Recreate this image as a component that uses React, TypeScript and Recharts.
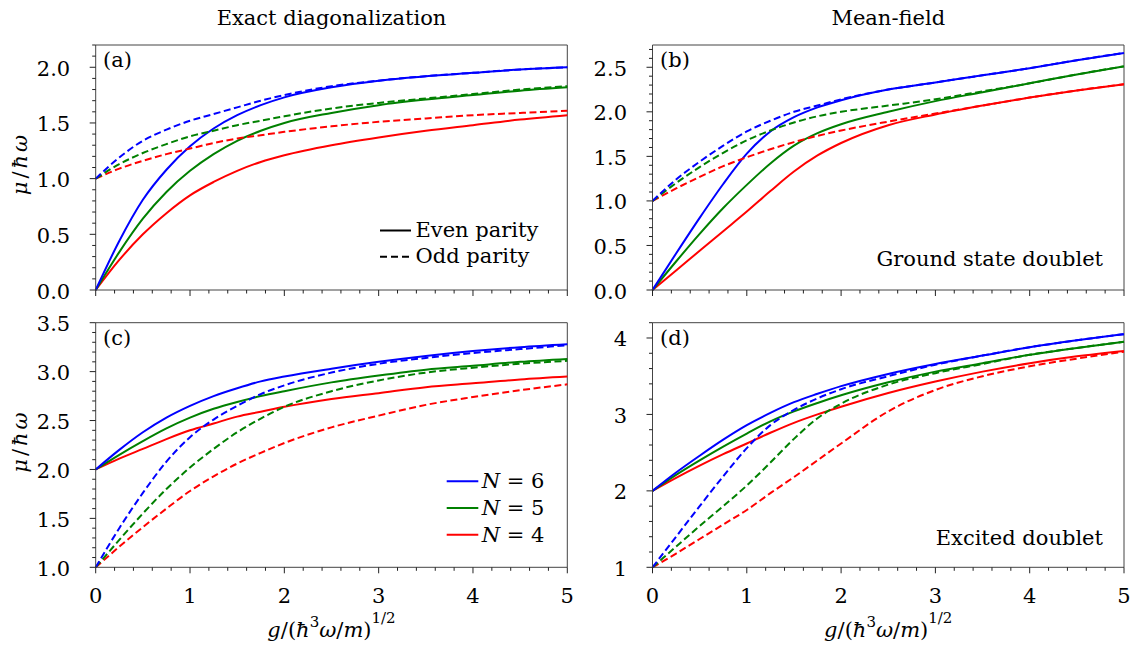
import React from 'react';
import { LineChart, Line, XAxis, YAxis, ReferenceLine } from 'recharts';

const FONT = "'DejaVu Serif', 'Liberation Serif', serif";
const FS = 21;
const INK = '#222222';
const FRAME = '#444444';
const BLUE = '#0000ff';
const GREEN = '#008000';
const RED = '#ff0000';
const DASH = '7 3.5';

// x values: g / (hbar^3 omega / m)^(1/2)
const gValues = [0, 0.25, 0.5, 0.75, 1, 1.25, 1.5, 1.75, 2, 2.5, 3, 3.5, 4, 4.5, 5];

// (a) Exact diagonalization, ground state doublet
const edGroundEvenN6 = [0, 0.44, 0.81, 1.08, 1.29, 1.45, 1.57, 1.66, 1.73, 1.82, 1.88, 1.92, 1.95, 1.98, 2.0];
const edGroundOddN6 = [1, 1.19, 1.34, 1.44, 1.52, 1.58, 1.64, 1.7, 1.75, 1.83, 1.88, 1.92, 1.95, 1.98, 2.0];
const edGroundEvenN5 = [0, 0.34, 0.64, 0.88, 1.07, 1.22, 1.34, 1.43, 1.5, 1.59, 1.66, 1.71, 1.75, 1.79, 1.82];
const edGroundOddN5 = [1, 1.13, 1.23, 1.31, 1.38, 1.43, 1.48, 1.52, 1.56, 1.63, 1.68, 1.72, 1.76, 1.8, 1.83];
const edGroundEvenN4 = [0, 0.27, 0.5, 0.69, 0.85, 0.97, 1.07, 1.15, 1.21, 1.3, 1.37, 1.43, 1.48, 1.53, 1.57];
const edGroundOddN4 = [1, 1.09, 1.16, 1.22, 1.27, 1.32, 1.36, 1.39, 1.42, 1.47, 1.51, 1.54, 1.57, 1.59, 1.61];

// (b) Mean-field, ground state doublet
const mfGroundEvenN6 = [0, 0.41, 0.81, 1.19, 1.53, 1.78, 1.94, 2.05, 2.13, 2.25, 2.33, 2.41, 2.49, 2.58, 2.66];
const mfGroundOddN6 = [1, 1.24, 1.44, 1.62, 1.78, 1.9, 2.0, 2.07, 2.14, 2.25, 2.33, 2.41, 2.49, 2.58, 2.66];
const mfGroundEvenN5 = [0, 0.32, 0.63, 0.92, 1.18, 1.42, 1.62, 1.76, 1.86, 2.0, 2.12, 2.22, 2.32, 2.42, 2.51];
const mfGroundOddN5 = [1, 1.2, 1.38, 1.54, 1.68, 1.79, 1.88, 1.95, 2.0, 2.07, 2.14, 2.23, 2.32, 2.42, 2.51];
const mfGroundEvenN4 = [0, 0.22, 0.44, 0.66, 0.88, 1.11, 1.33, 1.51, 1.65, 1.85, 1.97, 2.07, 2.16, 2.24, 2.31];
const mfGroundOddN4 = [1, 1.14, 1.27, 1.39, 1.49, 1.58, 1.66, 1.73, 1.79, 1.89, 1.98, 2.07, 2.16, 2.24, 2.31];

// (c) Exact diagonalization, excited doublet
const edExcitedEvenN6 = [2, 2.2, 2.38, 2.53, 2.65, 2.75, 2.83, 2.9, 2.95, 3.03, 3.1, 3.16, 3.21, 3.25, 3.28];
const edExcitedOddN6 = [1, 1.4, 1.76, 2.08, 2.33, 2.51, 2.65, 2.77, 2.86, 2.99, 3.08, 3.14, 3.19, 3.23, 3.27];
const edExcitedEvenN5 = [2, 2.15, 2.29, 2.42, 2.53, 2.62, 2.69, 2.75, 2.8, 2.89, 2.96, 3.02, 3.06, 3.1, 3.13];
const edExcitedOddN5 = [1, 1.28, 1.55, 1.8, 2.02, 2.21, 2.38, 2.52, 2.64, 2.8, 2.91, 2.99, 3.04, 3.08, 3.11];
const edExcitedEvenN4 = [2, 2.11, 2.21, 2.31, 2.4, 2.47, 2.54, 2.59, 2.64, 2.72, 2.78, 2.84, 2.88, 2.92, 2.95];
const edExcitedOddN4 = [1, 1.21, 1.41, 1.6, 1.78, 1.93, 2.06, 2.17, 2.27, 2.43, 2.55, 2.66, 2.74, 2.81, 2.87];

// (d) Mean-field, excited doublet
const mfExcitedEvenN6 = [2, 2.24, 2.46, 2.67, 2.86, 3.02, 3.16, 3.27, 3.37, 3.53, 3.66, 3.77, 3.88, 3.97, 4.05];
const mfExcitedOddN6 = [1, 1.4, 1.8, 2.19, 2.56, 2.86, 3.06, 3.21, 3.33, 3.5, 3.65, 3.77, 3.88, 3.97, 4.05];
const mfExcitedEvenN5 = [2, 2.21, 2.4, 2.58, 2.75, 2.91, 3.04, 3.15, 3.25, 3.42, 3.56, 3.67, 3.78, 3.87, 3.95];
const mfExcitedOddN5 = [1, 1.27, 1.54, 1.8, 2.07, 2.37, 2.68, 2.95, 3.14, 3.39, 3.54, 3.66, 3.78, 3.87, 3.95];
const mfExcitedEvenN4 = [2, 2.17, 2.33, 2.48, 2.62, 2.76, 2.89, 3.0, 3.1, 3.28, 3.43, 3.56, 3.67, 3.76, 3.83];
const mfExcitedOddN4 = [1, 1.18, 1.37, 1.56, 1.75, 1.97, 2.18, 2.4, 2.62, 3.04, 3.32, 3.5, 3.63, 3.73, 3.82];

// text
const columnTitles = ['Exact diagonalization', 'Mean-field'];
const panelLetters = ['(a)', '(b)', '(c)', '(d)'];
const parityLabels = ['Even parity', 'Odd parity'];
const particleNumbers = ['6', '5', '4'];
const doubletLabels = ['Ground state doublet', 'Excited doublet'];

function makeTicks(start: number, end: number, step: number): number[] {
  const n = Math.round((end - start) / step);
  return Array.from({ length: n + 1 }, (_, i) => Math.round((start + i * step) * 1000) / 1000);
}

const xTicks = makeTicks(0, 5, 0.2);
const yTicksA = makeTicks(0, 2.2, 0.1);
const yTicksB = makeTicks(0, 2.7, 0.1);
const yTicksC = makeTicks(1, 3.5, 0.1);
const yTicksD = makeTicks(1, 4.2, 0.2);

type Row = { g: number; e6: number; e5: number; e4: number; o6: number; o5: number; o4: number };

function buildRows(e6: number[], e5: number[], e4: number[], o6: number[], o5: number[], o4: number[]): Row[] {
  return gValues.map((g, i) => ({ g, e6: e6[i], e5: e5[i], e4: e4[i], o6: o6[i], o5: o5[i], o4: o4[i] }));
}

const rowsA = buildRows(edGroundEvenN6, edGroundEvenN5, edGroundEvenN4, edGroundOddN6, edGroundOddN5, edGroundOddN4);
const rowsB = buildRows(mfGroundEvenN6, mfGroundEvenN5, mfGroundEvenN4, mfGroundOddN6, mfGroundOddN5, mfGroundOddN4);
const rowsC = buildRows(edExcitedEvenN6, edExcitedEvenN5, edExcitedEvenN4, edExcitedOddN6, edExcitedOddN5, edExcitedOddN4);
const rowsD = buildRows(mfExcitedEvenN6, mfExcitedEvenN5, mfExcitedEvenN4, mfExcitedOddN6, mfExcitedOddN5, mfExcitedOddN4);

function isMultiple(v: number, step: number) {
  const r = v / step;
  return Math.abs(r - Math.round(r)) < 1e-6;
}

function XTick(props: any) {
  const { x, y, payload, showLabel } = props;
  const v = payload.value as number;
  const major = isMultiple(v, 1);
  return (
    <g>
      <line x1={x} x2={x} y1={y} y2={y + (major ? 6 : 3.5)} stroke={INK} strokeWidth={1} />
      {showLabel && major ? (
        <text x={x} y={y + 35.5} textAnchor="middle" fontFamily={FONT} fontSize={FS} fill="#000">
          {String(Math.round(v))}
        </text>
      ) : null}
    </g>
  );
}

function YTick(props: any) {
  const { x, y, payload, majorStep, decimals } = props;
  const v = payload.value as number;
  const major = isMultiple(v, majorStep);
  return (
    <g>
      <line x1={x - (major ? 6 : 3.5)} x2={x} y1={y} y2={y} stroke={INK} strokeWidth={1} />
      {major ? (
        <text x={x - 25.5} y={y + 8.5} textAnchor="end" fontFamily={FONT} fontSize={FS} fill="#000">
          {v.toFixed(decimals)}
        </text>
      ) : null}
    </g>
  );
}

type PanelProps = {
  left: number;
  top: number;
  width: number;
  height: number;
  yAxisWidth: number;
  marginTop: number;
  marginRight: number;
  xAxisHeight: number;
  rows: Row[];
  yDomain: [number, number];
  yTicks: number[];
  majorStep: number;
  decimals: number;
  showXLabels: boolean;
};

function Panel(p: PanelProps) {
  return (
    <div style={{ position: 'absolute', left: p.left, top: p.top }}>
      <LineChart
        width={p.width}
        height={p.height}
        data={p.rows}
        margin={{ top: p.marginTop, right: p.marginRight, bottom: 0, left: 0 }}
      >
        <XAxis
          dataKey="g"
          type="number"
          domain={[0, 5]}
          ticks={xTicks}
          interval={0}
          tickSize={0}
          tickMargin={0}
          height={p.xAxisHeight}
          axisLine={{ stroke: FRAME, strokeWidth: 1 }}
          tickLine={false}
          tick={(t: any) => <XTick {...t} showLabel={p.showXLabels} />}
        />
        <YAxis
          type="number"
          domain={p.yDomain}
          ticks={p.yTicks}
          interval={0}
          tickSize={0}
          tickMargin={0}
          width={p.yAxisWidth}
          axisLine={{ stroke: FRAME, strokeWidth: 1 }}
          tickLine={false}
          tick={(t: any) => <YTick {...t} majorStep={p.majorStep} decimals={p.decimals} />}
        />
        <ReferenceLine y={p.yDomain[1]} stroke={FRAME} strokeWidth={1} />
        <ReferenceLine x={5} stroke={FRAME} strokeWidth={1} />
        <Line type="monotone" dataKey="e4" stroke={RED} strokeWidth={2} dot={false} isAnimationActive={false} />
        <Line type="monotone" dataKey="e5" stroke={GREEN} strokeWidth={2} dot={false} isAnimationActive={false} />
        <Line type="monotone" dataKey="e6" stroke={BLUE} strokeWidth={2} dot={false} isAnimationActive={false} />
        <Line type="monotone" dataKey="o4" stroke={RED} strokeWidth={2} strokeDasharray={DASH} dot={false} isAnimationActive={false} />
        <Line type="monotone" dataKey="o5" stroke={GREEN} strokeWidth={2} strokeDasharray={DASH} dot={false} isAnimationActive={false} />
        <Line type="monotone" dataKey="o6" stroke={BLUE} strokeWidth={2} strokeDasharray={DASH} dot={false} isAnimationActive={false} />
      </LineChart>
    </div>
  );
}

const colCenters = [331.5, 888.25];
const rowCenters = [163.5, 441];

function YTitle({ cy }: { cy: number }) {
  return (
    <text
      x={27}
      y={cy}
      transform={`rotate(-90, 27, ${cy})`}
      textAnchor="middle"
      fontFamily={FONT}
      fontSize={FS}
      letterSpacing={3}
      fill="#000"
    >
      <tspan fontStyle="italic">μ</tspan>/<tspan fontStyle="italic">ħω</tspan>
    </text>
  );
}

function XTitle({ cx }: { cx: number }) {
  return (
    <text x={cx} y={637} textAnchor="middle" fontFamily={FONT} fontSize={FS} fill="#000">
      <tspan fontStyle="italic">g</tspan>
      <tspan>/(</tspan>
      <tspan fontStyle="italic">ħ</tspan>
      <tspan dy={-10} fontSize={15}>3</tspan>
      <tspan dy={10} fontStyle="italic">ω</tspan>
      <tspan>/</tspan>
      <tspan fontStyle="italic">m</tspan>
      <tspan>)</tspan>
      <tspan dy={-14} fontSize={15}>1/2</tspan>
    </text>
  );
}

function Overlay() {
  const colors = [BLUE, GREEN, RED];
  return (
    <svg
      width={1132}
      height={648}
      style={{ position: 'absolute', left: 0, top: 0, pointerEvents: 'none' }}
    >
      {columnTitles.map((t, i) => (
        <text key={t} x={colCenters[i]} y={25} textAnchor="middle" fontFamily={FONT} fontSize={FS} fill="#000">
          {t}
        </text>
      ))}
      <text x={103} y={67} fontFamily={FONT} fontSize={FS} fill="#000">{panelLetters[0]}</text>
      <text x={660} y={67} fontFamily={FONT} fontSize={FS} fill="#000">{panelLetters[1]}</text>
      <text x={103} y={345} fontFamily={FONT} fontSize={FS} fill="#000">{panelLetters[2]}</text>
      <text x={660} y={345} fontFamily={FONT} fontSize={FS} fill="#000">{panelLetters[3]}</text>

      <text x={1103} y={266} textAnchor="end" fontFamily={FONT} fontSize={FS} fill="#000">{doubletLabels[0]}</text>
      <text x={1103} y={544.5} textAnchor="end" fontFamily={FONT} fontSize={FS} fill="#000">{doubletLabels[1]}</text>

      {/* parity legend (a) */}
      <line x1={380} x2={411} y1={230.5} y2={230.5} stroke="#000" strokeWidth={2} />
      <text x={415.5} y={237} fontFamily={FONT} fontSize={FS} fill="#000">{parityLabels[0]}</text>
      <line x1={380} x2={411} y1={256.7} y2={256.7} stroke="#000" strokeWidth={2} strokeDasharray="7 4" />
      <text x={415.5} y={263.3} fontFamily={FONT} fontSize={FS} fill="#000">{parityLabels[1]}</text>

      {/* particle number legend (c) */}
      {particleNumbers.map((n, i) => (
        <g key={n}>
          <line x1={446.7} x2={478.3} y1={481.3 + i * 26.7} y2={481.3 + i * 26.7} stroke={colors[i]} strokeWidth={2} />
          <text x={481.7} y={488.3 + i * 26.7} fontFamily={FONT} fontSize={FS} fill="#000">
            <tspan fontStyle="italic">N</tspan>
            <tspan> = {n}</tspan>
          </text>
        </g>
      ))}

      <YTitle cy={rowCenters[0]} />
      <YTitle cy={rowCenters[1]} />
      <XTitle cx={colCenters[0]} />
      <XTitle cx={colCenters[1]} />
    </svg>
  );
}

export default function App() {
  return (
    <div
      style={{
        position: 'absolute',
        left: 0,
        top: 0,
        width: 1132,
        height: 648,
        background: '#fff',
        overflow: 'hidden',
      }}
    >
      <Panel
        left={0}
        top={0}
        width={580}
        height={312}
        yAxisWidth={95.7}
        marginTop={45}
        marginRight={12.7}
        xAxisHeight={22}
        rows={rowsA}
        yDomain={[0, 2.2]}
        yTicks={yTicksA}
        majorStep={0.5}
        decimals={1}
        showXLabels={false}
      />
      <Panel
        left={580}
        top={0}
        width={552}
        height={312}
        yAxisWidth={72.5}
        marginTop={45}
        marginRight={8}
        xAxisHeight={22}
        rows={rowsB}
        yDomain={[0, 2.75]}
        yTicks={yTicksB}
        majorStep={0.5}
        decimals={1}
        showXLabels={false}
      />
      <Panel
        left={0}
        top={300}
        width={580}
        height={348}
        yAxisWidth={95.7}
        marginTop={22.7}
        marginRight={12.7}
        xAxisHeight={80.7}
        rows={rowsC}
        yDomain={[1, 3.5]}
        yTicks={yTicksC}
        majorStep={0.5}
        decimals={1}
        showXLabels={true}
      />
      <Panel
        left={580}
        top={300}
        width={552}
        height={348}
        yAxisWidth={72.5}
        marginTop={22.7}
        marginRight={8}
        xAxisHeight={80.7}
        rows={rowsD}
        yDomain={[1, 4.2]}
        yTicks={yTicksD}
        majorStep={1}
        decimals={0}
        showXLabels={true}
      />
      <Overlay />
    </div>
  );
}
